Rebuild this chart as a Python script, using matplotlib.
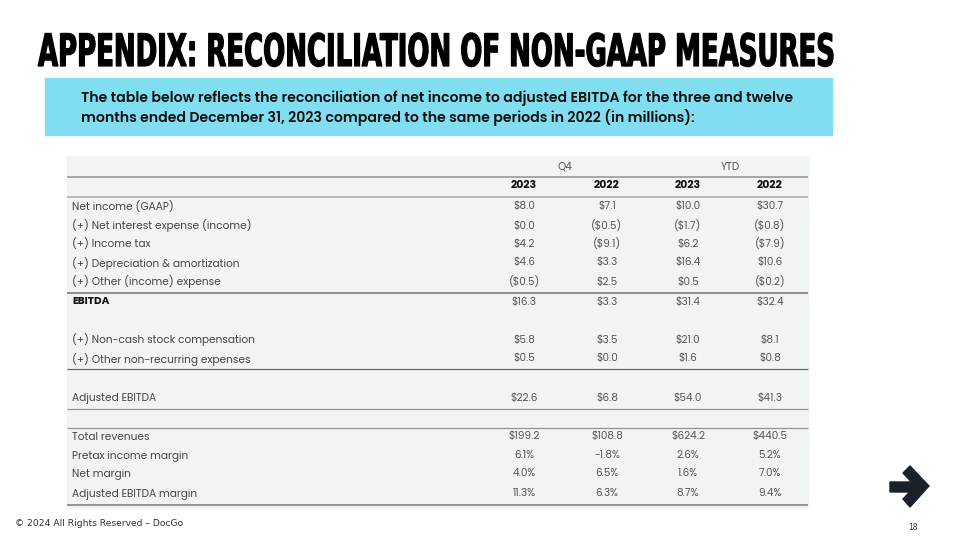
import matplotlib
matplotlib.use("Agg")
import matplotlib.pyplot as plt
from matplotlib.patches import Rectangle, Polygon
from matplotlib.patheffects import AbstractPathEffect
from matplotlib.transforms import Affine2D

# table contents
row_labels = ["Net income (GAAP)", "(+) Net interest expense (income)", "(+) Income tax",
              "(+) Depreciation & amortization", "(+) Other (income) expense", "EBITDA",
              "(+) Non-cash stock compensation", "(+) Other non-recurring expenses",
              "Adjusted EBITDA", "Total revenues", "Pretax income margin", "Net margin",
              "Adjusted EBITDA margin"]
q4_2023 = ["$8.0", "$0.0", "$4.2", "$4.6", "($0.5)", "$16.3", "$5.8", "$0.5", "$22.6",
           "$199.2", "6.1%", "4.0%", "11.3%"]
q4_2022 = ["$7.1", "($0.5)", "($9.1)", "$3.3", "$2.5", "$3.3", "$3.5", "$0.0", "$6.8",
           "$108.8", "-1.8%", "6.5%", "6.3%"]
ytd_2023 = ["$10.0", "($1.7)", "$6.2", "$16.4", "$0.5", "$31.4", "$21.0", "$1.6", "$54.0",
            "$624.2", "2.6%", "1.6%", "8.7%"]
ytd_2022 = ["$30.7", "($0.8)", "($7.9)", "$10.6", "($0.2)", "$32.4", "$8.1", "$0.8", "$41.3",
            "$440.5", "5.2%", "7.0%", "9.4%"]
groups = ["Q4", "YTD"]
years = ["2023", "2022", "2023", "2022"]

title = "APPENDIX: RECONCILIATION OF NON-GAAP MEASURES"
intro = ["The table below reflects the reconciliation of net income to adjusted EBITDA for the three and twelve",
         "months ended December 31, 2023 compared to the same periods in 2022 (in millions):"]
footer = "\u00a9 2024 All Rights Reserved \u2013 DocGo"
page = "18"

# layout (pixels)
row_y = [207, 226, 244, 263, 282, 302, 340, 359, 398, 437, 456, 474, 494]
col_x = [524, 607, 688, 770]
group_x = [565, 730]


class Stretch(AbstractPathEffect):
    # tall, condensed look for the headline: scale glyphs vertically about the baseline
    def __init__(self, sy, lw=0.0):
        super().__init__()
        self.sy = sy
        self.lw = lw

    def draw_path(self, renderer, gc, tpath, affine, rgbFace=None):
        m = affine.get_matrix()
        tx, ty = m[0, 2], m[1, 2]
        extra = Affine2D().translate(-tx, -ty).scale(1, self.sy).translate(tx, ty)
        gc0 = renderer.new_gc()
        gc0.copy_properties(gc)
        if self.lw:
            gc0.set_linewidth(self.lw)
            gc0.set_foreground(rgbFace)
        renderer.draw_path(gc0, tpath, affine + extra, rgbFace)
        gc0.restore()


fig = plt.figure(figsize=(9.6, 5.4), dpi=100)
ax = fig.add_axes([0, 0, 1, 1])
ax.set_xlim(0, 960)
ax.set_ylim(540, 0)
ax.axis("off")
fig.canvas.draw()
renderer = fig.canvas.get_renderer()


def fit(t, width):
    # shrink/grow the font so the text spans the given pixel width
    w = t.get_window_extent(renderer).width
    t.set_fontsize(t.get_fontsize() * width / w)


t = ax.text(38, 66, title, fontsize=30, fontweight="bold", color="black",
            family="DejaVu Sans", va="baseline", ha="left")
fit(t, 798)
t.set_path_effects([Stretch(1.72, lw=0.9)])

ax.add_patch(Rectangle((45, 78), 787, 57, color="#80def0", zorder=0))
for i, line in enumerate(intro):
    t = ax.text(81, 98 + i * 20, line, fontsize=10, fontweight="semibold", color="#111111",
                family=["Poppins", "Lato", "DejaVu Sans"], va="center", ha="left")
    if i == 0:
        fit(t, 716)
        fs = t.get_fontsize()
    else:
        t.set_fontsize(fs)

ax.add_patch(Rectangle((67, 156), 741, 352, color="#f1f4f5", zorder=0))

tfont = ["Poppins", "Lato", "DejaVu Sans"]
for g, x in zip(groups, group_x):
    ax.text(x, 167, g, fontsize=7.5, color="#555555", family=tfont, ha="center", va="center")
for y_, x in zip(years, col_x):
    ax.text(x, 186, y_, fontsize=7.8, fontweight="bold", color="#111111", family=tfont,
            ha="center", va="center")

for i, lab in enumerate(row_labels):
    bold = lab == "EBITDA"
    ax.text(72, row_y[i], lab, fontsize=7.6, color="#111111" if bold else "#444444",
            fontweight="bold" if bold else "normal", family=tfont, ha="left", va="center")
    for x, col in zip(col_x, [q4_2023, q4_2022, ytd_2023, ytd_2022]):
        ax.text(x, row_y[i], col[i], fontsize=7.5, color="#555555", family=tfont,
                ha="center", va="center")

# rules
for y, c, lw in [(177, "#a8a8a8", 2.0), (197, "#a8a8a8", 1.5), (293, "#909090", 2.0),
                 (369, "#666666", 1.2), (409, "#909090", 1.2), (428, "#909090", 1.2),
                 (505, "#777777", 1.5)]:
    ax.plot([67, 808], [y, y], color=c, lw=lw * 0.72, solid_capstyle="butt")

# arrow logo
ax.add_patch(Polygon([(890, 482), (911.5, 482), (903, 473), (910, 466), (929, 486),
                      (910, 507), (903, 499), (909.6, 492), (890, 492)],
                     closed=True, color="#1b2128"))

t = ax.text(15, 524, footer, fontsize=5.3, color="#333333", family="DejaVu Sans",
            ha="left", va="center")
fit(t, 167)
ax.text(913, 527, page, fontsize=5.5, color="#333333", ha="center", va="center")

fig.savefig("out.png", dpi=100)
